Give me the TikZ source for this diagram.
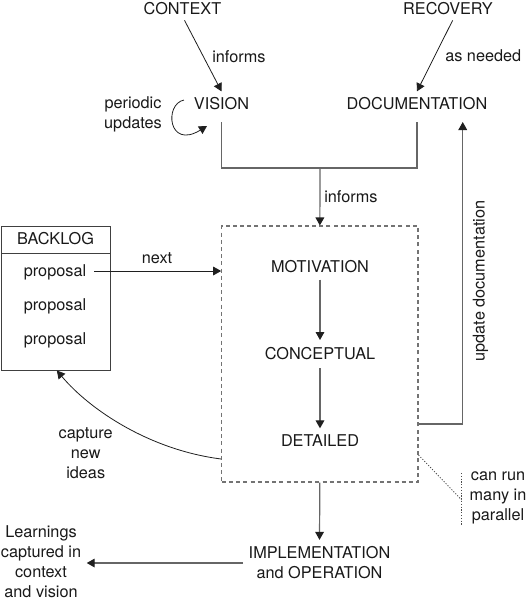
\documentclass[tikz,border=0pt]{standalone}
\usepackage{fontspec}
\setmainfont{TeX Gyre Heros}
\usetikzlibrary{arrows.meta,fit}
\begin{document}
\begin{tikzpicture}[x=0.75pt,y=-0.75pt,
  lbl/.style={inner sep=0pt, text height=8.6pt, text depth=0pt, font=\fontsize{12.2}{15}\selectfont, text=black!90},
  ml/.style={inner sep=0pt, align=center, font=\fontsize{12.2}{15}\selectfont, text=black!90},
  tip/.style={-{Triangle[length=6pt,width=6.5pt,color=black!88]}},
  bline/.style={draw=black!88, line width=0.6pt},
  gline/.style={draw=black!60, line width=0.9pt},
  dotl/.style={draw=black!70, line width=0.6pt, dash pattern=on 0.9pt off 1.2pt}]
\useasboundingbox (0,0) rectangle (528,601);

% top nodes
\node[lbl] (context) at (182.5,9) {CONTEXT};
\node[lbl] (recovery) at (448,9) {RECOVERY};
\node[lbl] (vision) at (221.5,104) {VISION};
\node[lbl] (doc) at (417,104) {DOCUMENTATION};
\node[lbl, anchor=west] (inf1) at (212,57) {informs};
\node[lbl, anchor=west] (asneeded) at (445,56) {as needed};
\node[ml] (periodic) at (133,114) {periodic\\updates};

\draw[bline, tip] ([xshift=1.5pt,yshift=-4pt]context.south) -- ([yshift=5pt]vision.north);
\draw[bline, tip] ([xshift=3.5pt,yshift=-4pt]recovery.south) -- ([yshift=5pt]doc.north);

\coordinate (pu1) at (184,100);
\coordinate (pu2) at (207,126);
\draw[bline, tip] (pu1) .. controls (164,104) and (168,150) .. (pu2);

% junction
\coordinate (junc) at (320,168);
\draw[gline] ([yshift=-9pt]vision.south) |- (junc);
\draw[gline] ([yshift=-9pt]doc.south) |- (junc);

% process box
\node[draw=black!55, line width=0.8pt, dash pattern=on 3pt off 2.4pt, fit={(221.7,226)(418,482)}, inner sep=0pt] (proc) {};
\draw[gline, tip] (junc) -- (proc.north);
\node[lbl, anchor=west] (inf2) at (324,197) {informs};

\node[lbl] (mot) at (320,267) {MOTIVATION};
\node[lbl] (conc) at (320,354) {CONCEPTUAL};
\node[lbl] (det) at (320,441) {DETAILED};
\draw[gline, tip] ([yshift=-5pt]mot.south) -- ([yshift=6pt]conc.north);
\draw[gline, tip] ([yshift=-6pt]conc.south) -- ([yshift=5pt]det.north);

% update documentation
\draw[gline, tip] ([yshift=-52.5pt]proc.east) -| ([xshift=34.3pt,yshift=-9pt]doc.south);
\node[lbl, rotate=90] (updoc) at (479,281) {update documentation};

% backlog
\node[draw=black!75, line width=0.7pt, fit={(1,226.7)(110,370)}, inner sep=0pt] (backlog) {};
\coordinate (hdrl) at (1,253);
\coordinate (hdrr) at (110,253);
\draw[draw=black!75, line width=0.7pt] (hdrl) -- (hdrr);
\node[lbl] (bl) at (55.5,239) {BACKLOG};
\node[lbl] (p1) at (55,271) {proposal};
\node[lbl] (p2) at (55,305) {proposal};
\node[lbl] (p3) at (55,339) {proposal};
\node[lbl] (next) at (157,258) {next};
\draw[bline, tip] ([xshift=6pt]p1.east) -- (p1.east -| proc.west);

% capture new ideas
\draw[bline, tip] ([yshift=-78.75pt]proc.west) .. controls (150,450) and (90,410) .. ([xshift=1pt]backlog.south);
\node[ml] (capture) at (85.7,453) {capture\\new\\ideas};

% can run many in parallel
\coordinate (dt1) at (461.7,500);
\coordinate (dt2) at (461.7,473);
\coordinate (dt3) at (461.7,525);
\draw[dotl] ([yshift=-75.75pt]proc.east) -- (dt1);
\draw[dotl] (dt2) -- (dt3);
\node[ml] (canrun) at (498,498) {can run\\many in\\parallel};

% implementation
\node[ml] (impl) at (319.5,563) {IMPLEMENTATION\\and OPERATION};
\node[ml] (learn) at (41,562) {Learnings\\captured in\\context\\and vision};
\draw[gline, tip] (proc.south) -- ([yshift=5pt]impl.north);
\draw[gline, tip] ([xshift=-4pt]impl.west) -- ([xshift=4pt]learn.east |- impl.west);
\end{tikzpicture}
\end{document}
